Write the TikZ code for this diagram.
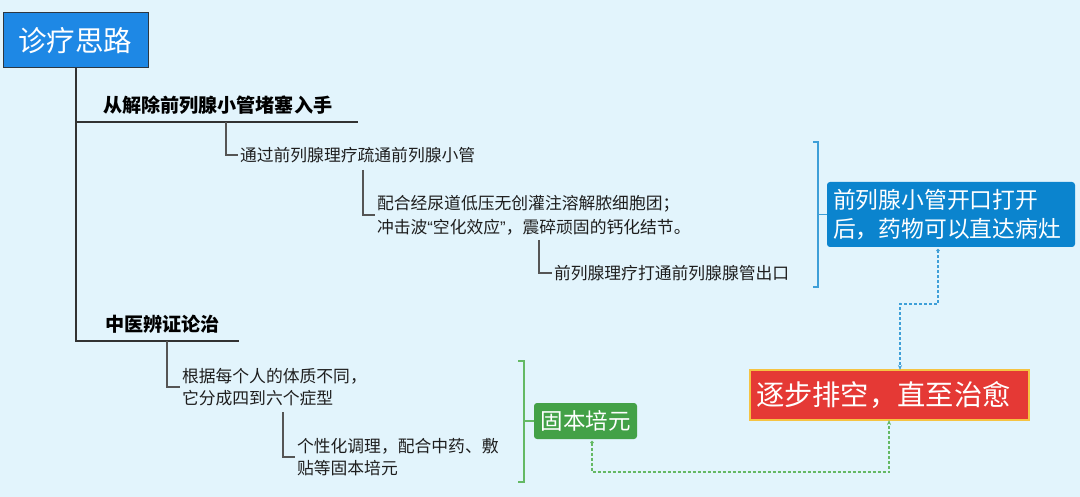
\documentclass[tikz,border=0pt]{standalone}
\usepackage{fontspec}
\setmainfont{Noto Sans CJK SC}
\newfontfamily\quotefont{Liberation Sans}
\usetikzlibrary{arrows.meta,calc}
\definecolor{bgc}{RGB}{226,244,252}
\definecolor{rootc}{RGB}{30,136,229}
\definecolor{rootb}{RGB}{45,55,65}
\definecolor{bluebx}{RGB}{11,132,206}
\definecolor{greenbx}{RGB}{67,161,71}
\definecolor{redbx}{RGB}{229,57,53}
\definecolor{redbd}{RGB}{245,195,66}
\definecolor{bluel}{RGB}{62,159,216}
\definecolor{greenl}{RGB}{100,185,100}
\definecolor{linec}{RGB}{50,50,50}
\definecolor{sublc}{RGB}{85,85,85}
\definecolor{txtc}{RGB}{30,30,30}
\begin{document}
\begin{tikzpicture}[x=1pt,y=-1pt,
  every node/.style={inner sep=0pt, outer sep=0pt},
  txt/.style={anchor=west, font=\fontsize{16.8}{23}\selectfont, text=txtc, align=left},
  head/.style={anchor=west, font=\bfseries\fontsize{19.1}{24}\selectfont, text=black},
  rootbox/.style={fill=rootc, draw=rootb, line width=1pt, minimum width=145pt, minimum height=55pt, text=white, font=\fontsize{28.5}{30}\selectfont},
  bluebox/.style={fill=bluebx, rounded corners=3pt, text=white, font=\fontsize{22.8}{29}\selectfont, align=left, text width=236pt, inner xsep=6pt, minimum height=65pt},
  redbox/.style={fill=redbx, draw=redbd, line width=1.5pt, text=white, font=\fontsize{28.3}{30}\selectfont, align=left, text width=267pt, inner xsep=6pt, minimum height=50pt},
  greenbox/.style={fill=greenbx, rounded corners=3pt, text=white, font=\fontsize{22.5}{24}\selectfont, minimum width=103pt, minimum height=36pt},
  mainln/.style={draw=linec, line width=2pt},
  subln/.style={draw=sublc, line width=1.3pt, shorten >=2pt},
  bluebr/.style={draw=bluel, line width=1.2pt},
  greenbr/.style={draw=greenl, line width=1.2pt},
  bluedash/.style={draw=bluel, line width=1.2pt, dash pattern=on 3pt off 2pt, -{Stealth[length=5pt,width=4pt]}},
  greendash/.style={draw=greenl, line width=1.2pt, dash pattern=on 3pt off 2pt, -{Stealth[length=5pt,width=4pt]}}
]
\fill[bgc] (0,0) rectangle (1080,497);
\useasboundingbox (0,0) rectangle (1080,497);

% root
\node[rootbox] (root) at (75.5,40.5) {诊疗思路};

% branch heads
\node[head] (b1) at (103,105) {从解除前列腺小管堵塞入手};
\coordinate (b1e) at (358,122);
\node[head] (b2) at (105,324) {中医辨证论治};
\coordinate (b2e) at (239,341);

\draw[mainln] (root.south) -- (root.south |- b2e) -- (b2e);
\draw[mainln] (root.south |- b1e) -- (b1e);

% branch 1 children
\node[txt] (t1) at (240,155) {通过前列腺理疗疏通前列腺小管};
\coordinate (c1) at (226,122);
\draw[subln] (c1) |- (t1.west);

\node[txt, font=\fontsize{16.8}{24}\selectfont] (t2) at (377,215) {配合经尿道低压无创灌注溶解脓细胞团；\\冲击波{\quotefont “}空化效应{\quotefont ”}，震碎顽固的钙化结节。};
\coordinate (c2) at (363,170);
\draw[subln] (c2) |- (t2.west);

\node[txt] (t3) at (554,273) {前列腺理疗打通前列腺腺管出口};
\coordinate (c3) at (539,240);
\draw[subln] (c3) |- (t3.west);

% branch 2 children
\node[txt, font=\fontsize{16.8}{22}\selectfont] (t4) at (182,387) {根据每个人的体质不同，\\它分成四到六个症型};
\coordinate (c4) at (167,341);
\draw[subln] (c4) |- (t4.west);

\node[txt, font=\fontsize{16.8}{22}\selectfont] (t5) at (297,457) {个性化调理，配合中药、敷\\贴等固本培元};
\coordinate (c5) at (283,412);
\draw[subln] (c5) |- (t5.west);

% summary boxes
\node[bluebox] (bb) at (951,214.5) {前列腺小管开口打开\\后，药物可以直达病灶};
\node[greenbox] (gb) at (585.5,421) {固本培元};
\node[redbox] (rb) at (889.5,395) {逐步排空，直至治愈};

% brackets
\draw[bluebr] (813,142) -| (818,287) -- (813,287);
\draw[bluebr] (818,214.5) -- (bb.west);
\draw[greenbr] (518,361) -| (524,482) -- (518,482);
\draw[greenbr] (524,421) -- (gb.west);

% dashed links
\coordinate (bs) at ([xshift=-13pt,yshift=-3.5pt]bb.south);
\coordinate (bk) at (900,304);
\fill[bluel] (bs) circle (1.8pt);
\draw[bluedash] (bs) |- (bk) -- (bk |- rb.north);

\coordinate (gs) at ([xshift=6.5pt,yshift=-3.5pt]gb.south);
\coordinate (gk) at (889,472);
\fill[greenl] (gs) circle (1.8pt);
\draw[greendash] (gs) |- (gk) -- (gk |- rb.south);
\end{tikzpicture}
\end{document}
